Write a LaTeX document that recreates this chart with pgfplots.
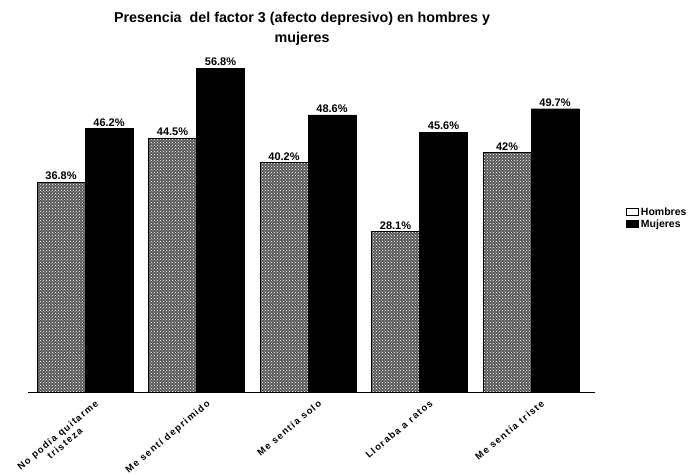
\documentclass[border=0pt]{standalone}
\usepackage{fontspec}
\setmainfont{Liberation Sans}
\usepackage{pgfplots}
\pgfplotsset{compat=1.18}
\usetikzlibrary{patterns}

\makeatletter
\tikzset{no postactions/.code={\let\tikz@postactions\pgfutil@empty}}
\makeatother

\pgfplotstableread{
x hombres mujeres
0 36.8 46.2
1 44.5 56.8
2 40.2 48.6
3 28.1 45.6
4 42.0 49.7
}\factordata

\begin{document}
\begin{tikzpicture}
\begin{axis}[
  at={(85pt,82pt)}, anchor=origin,
  scale only axis, width=567pt, height=342pt,
  ybar=0pt, bar width=48pt,
  xmin=-0.515, xmax=4.57, ymin=0, ymax=60,
  axis x line=bottom, axis y line=none,
  x axis line style={-, line width=1pt},
  xtick={0,1,2,3,4},
  xticklabels={{No podía quitarme\\tristeza},{Me sentí deprimido},{Me sentía solo},{Lloraba a ratos},{Me sentía triste}},
  xtick style={draw=none},
  xticklabel style={rotate=40, anchor=north east, align=center,
    font=\bfseries\fontsize{9.5}{11}\selectfont\addfontfeature{LetterSpace=14},
    inner sep=0pt, xshift=4pt, yshift=-10pt},
  /pgf/number format/assume math mode=true,
  nodes near coords={\pgfmathprintnumber\pgfplotspointmeta\%},
  every node near coord/.append style={font=\bfseries\fontsize{11}{12}\selectfont, inner sep=2pt},
  title={Presencia\ \ del factor 3 (afecto depresivo) en hombres y\\mujeres},
  title style={font=\bfseries\fontsize{14.3}{20}\selectfont, align=center,
    yshift=-5pt, xshift=-9pt},
  legend style={at={(1.05,0.552)}, anchor=north west, draw=none,
    font=\bfseries\fontsize{10.5}{11}\selectfont, row sep=-1pt},
  legend cell align=left,
]
\addplot[draw=black, line width=0.8pt, fill=black!65,
  postaction={pattern=crosshatch dots, pattern color=white},
  legend image code/.code={\draw[no postactions, draw=black, fill=white, line width=0.8pt] (0pt,-3.5pt) rectangle (12pt,3.5pt);}]
  table[x=x, y=hombres] {\factordata};
\addplot[draw=black, fill=black,
  legend image code/.code={\draw[draw=black, fill=black] (0pt,-3.5pt) rectangle (12pt,3.5pt);}]
  table[x=x, y=mujeres] {\factordata};
\legend{Hombres, Mujeres}
\end{axis}
\pgfresetboundingbox
\path[use as bounding box] (0pt,0pt) rectangle (696pt,474pt);
\end{tikzpicture}
\end{document}
